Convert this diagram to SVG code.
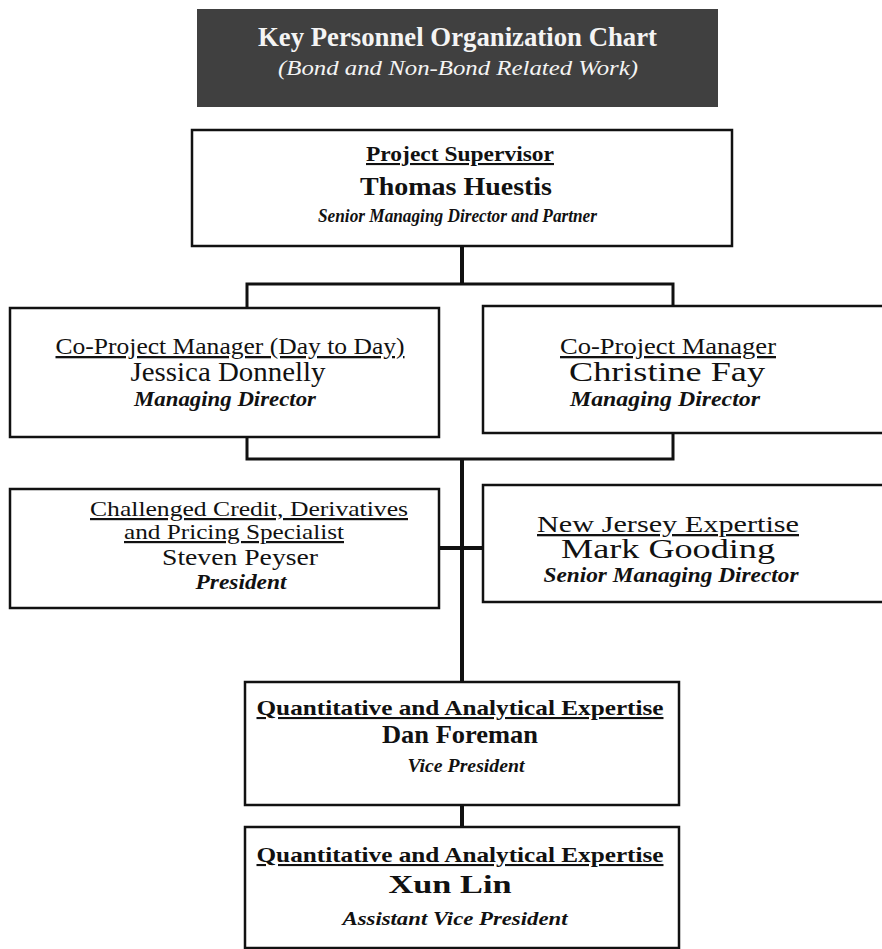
<svg xmlns="http://www.w3.org/2000/svg" width="882" height="949" viewBox="0 0 882 949">
<style>
.t{font-family:"Liberation Serif","Times New Roman",serif;text-anchor:middle;fill:#111}
.h{font-size:23px;text-decoration:underline}
.h3{font-size:22px;text-decoration:underline}
.hb{font-size:21px;font-weight:bold;text-decoration:underline}
.n{font-size:26px;font-weight:bold}
.nr{font-size:27px}
.n3{font-size:24px}
.r{font-size:18px;font-style:italic;font-weight:bold}
.r2{font-size:20px;font-style:italic;font-weight:bold}
.box{fill:#fff;stroke:#111;stroke-width:2.5}
.c{fill:none;stroke:#111;stroke-width:3}
.v{fill:none;stroke:#111;stroke-width:4}
</style>
<rect width="882" height="949" fill="#fff"/>
<g id="title">
<rect x="197" y="9" width="521" height="98" fill="#404040"/>
<text class="t" x="457.5" y="46" style="font-size:27px;font-weight:bold;fill:#f4f4f4" textLength="399" lengthAdjust="spacingAndGlyphs">Key Personnel Organization Chart</text>
<text class="t" x="458" y="75" style="font-size:20px;font-style:italic;fill:#f4f4f4" textLength="360" lengthAdjust="spacingAndGlyphs">(Bond and Non-Bond Related Work)</text>
</g>
<g id="connectors">
<path class="v" d="M462,246 V284"/>
<path class="c" d="M247,309 V284 H673 V307"/>
<path class="c" d="M247,437 V459 H673 V433"/>
<path class="v" d="M462,459 V682"/>
<path class="v" d="M439,548 H483"/>
<path class="v" d="M462,805 V827"/>
</g>
<g id="supervisor">
<rect class="box" x="192" y="130" width="540" height="116"/>
<text class="t hb" x="460" y="161" textLength="188" lengthAdjust="spacingAndGlyphs">Project Supervisor</text>
<text class="t n" x="456" y="195" textLength="192" lengthAdjust="spacingAndGlyphs">Thomas Huestis</text>
<text class="t r" x="457.5" y="222" textLength="279" lengthAdjust="spacingAndGlyphs">Senior Managing Director and Partner</text>
</g>
<g id="donnelly">
<rect class="box" x="10" y="308" width="429" height="129"/>
<text class="t h" x="230" y="354" textLength="349" lengthAdjust="spacingAndGlyphs">Co-Project Manager (Day to Day)</text>
<text class="t nr" x="228" y="381" textLength="195" lengthAdjust="spacingAndGlyphs">Jessica Donnelly</text>
<text class="t r2" x="225" y="406" textLength="182" lengthAdjust="spacingAndGlyphs">Managing Director</text>
</g>
<g id="fay">
<rect class="box" x="483" y="306" width="420" height="127"/>
<text class="t h" x="668" y="354" textLength="216" lengthAdjust="spacingAndGlyphs">Co-Project Manager</text>
<text class="t nr" x="667" y="381" textLength="196" lengthAdjust="spacingAndGlyphs">Christine Fay</text>
<text class="t r2" x="665" y="406" textLength="190" lengthAdjust="spacingAndGlyphs">Managing Director</text>
</g>
<g id="peyser">
<rect class="box" x="10" y="489" width="429" height="119"/>
<text class="t h3" x="249" y="516" textLength="318" lengthAdjust="spacingAndGlyphs">Challenged Credit, Derivatives</text>
<text class="t h3" x="234" y="539" textLength="220" lengthAdjust="spacingAndGlyphs">and Pricing Specialist</text>
<text class="t n3" x="240" y="565" textLength="156" lengthAdjust="spacingAndGlyphs">Steven Peyser</text>
<text class="t r2" x="241" y="589" textLength="91" lengthAdjust="spacingAndGlyphs">President</text>
</g>
<g id="gooding">
<rect class="box" x="483" y="485" width="420" height="117"/>
<text class="t h" x="668" y="532" textLength="262" lengthAdjust="spacingAndGlyphs">New Jersey Expertise</text>
<text class="t nr" x="668" y="558" textLength="214" lengthAdjust="spacingAndGlyphs">Mark Gooding</text>
<text class="t r2" x="671" y="582" textLength="255" lengthAdjust="spacingAndGlyphs">Senior Managing Director</text>
</g>
<g id="foreman">
<rect class="box" x="245" y="682" width="434" height="123"/>
<text class="t hb" x="460" y="715" textLength="407" lengthAdjust="spacingAndGlyphs">Quantitative and Analytical Expertise</text>
<text class="t n" x="460" y="743" textLength="156" lengthAdjust="spacingAndGlyphs">Dan Foreman</text>
<text class="t r" x="466" y="772" textLength="117" lengthAdjust="spacingAndGlyphs">Vice President</text>
</g>
<g id="lin">
<rect class="box" x="245" y="827" width="434" height="121"/>
<text class="t hb" x="460" y="862" textLength="407" lengthAdjust="spacingAndGlyphs">Quantitative and Analytical Expertise</text>
<text class="t n" x="450" y="893" textLength="123" lengthAdjust="spacingAndGlyphs">Xun Lin</text>
<text class="t r" x="455" y="925" textLength="225" lengthAdjust="spacingAndGlyphs">Assistant Vice President</text>
</g>
</svg>
